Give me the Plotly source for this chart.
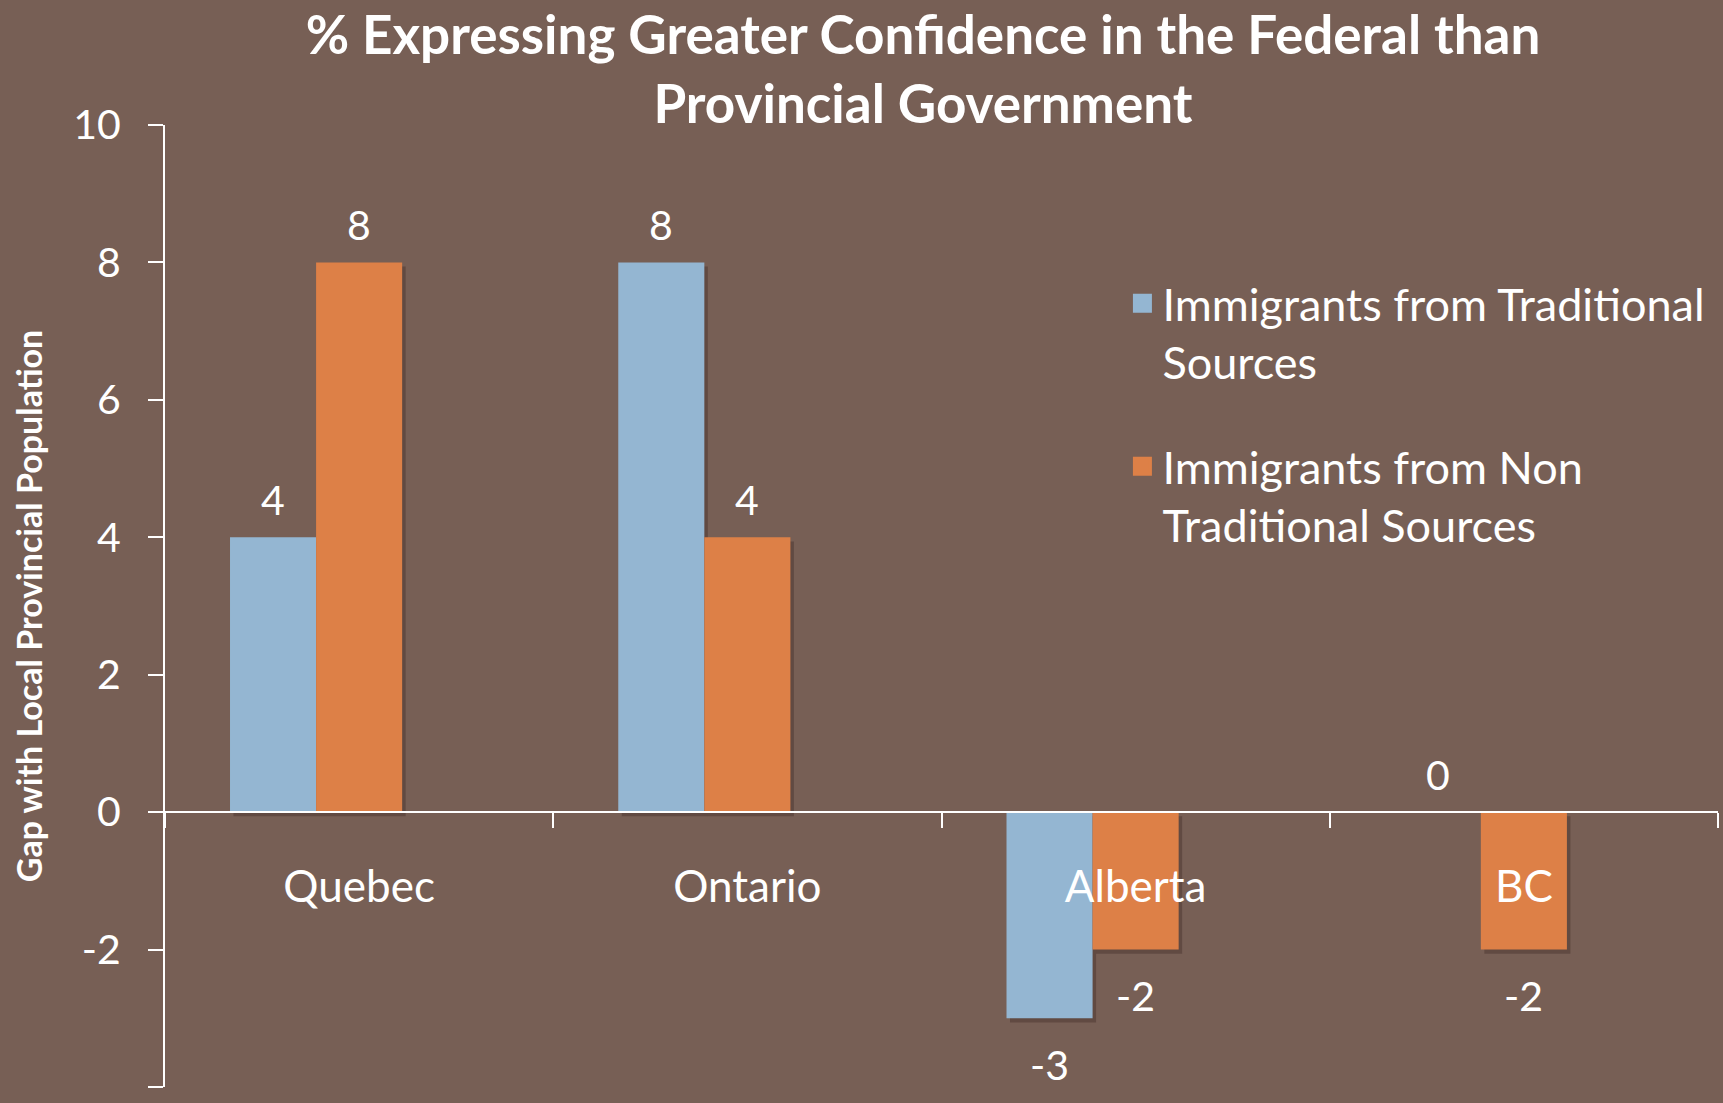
import plotly.graph_objects as go

categories = ["Quebec", "Ontario", "Alberta", "BC"]
traditional = [4, 8, -3, 0]
non_traditional = [8, 4, -2, -2]
series_names = ["Immigrants from Traditional<br>Sources", "Immigrants from Non<br>Traditional Sources"]
title_text = "% Expressing Greater Confidence in the Federal than<br>Provincial Government"
y_title = "Gap with Local Provincial Population"
y_range = [-4, 10]
y_ticks = [-4, -2, 0, 2, 4, 6, 8, 10]
y_tick_labels = ["-4", "-2", "0", "2", "4", "6", "8", "10"]

BG = "#775F55"
BLUE = "#94B6D2"
ORANGE = "#DD8047"
FONT = "Lato"

bar_w = 0.2217
offsets = [-1.5 * bar_w, -0.5 * bar_w]
colors = [BLUE, ORANGE]
series = [traditional, non_traditional]

fig = go.Figure()

# soft drop shadows (shifted slightly right and down)
for vals, off in zip(series, offsets):
    fig.add_trace(go.Bar(
        x=categories, y=vals, base=-0.06, width=bar_w, offset=off + 0.009,
        marker=dict(color="rgba(45,28,22,0.30)", line=dict(width=0)),
        showlegend=False, hoverinfo="skip",
    ))

for vals, off, col, name in zip(series, offsets, colors, series_names):
    fig.add_trace(go.Bar(
        x=categories, y=vals, width=bar_w, offset=off,
        marker=dict(color=col, line=dict(width=0)),
        name=name, showlegend=False, legendgroup=name,
    ))

# legend entries
for col, name in zip(colors, series_names):
    fig.add_trace(go.Scatter(
        x=[None], y=[None], mode="markers", name=name, legendgroup=name,
        marker=dict(symbol="square", size=22, color=col, line=dict(width=3, color=col)),
    ))

# value labels
annotations = []
for vals, off in zip(series, offsets):
    for i, v in enumerate(vals):
        annotations.append(dict(
            x=i + off + bar_w / 2, y=v, xref="x", yref="y",
            text=str(v), showarrow=False,
            font=dict(family=FONT, size=41, color="white"),
            yshift=38 if v >= 0 else -46,
        ))

pos0 = (0 - y_range[0]) / (y_range[1] - y_range[0])

fig.update_layout(
    width=1723, height=1103,
    paper_bgcolor=BG, plot_bgcolor=BG,
    margin=dict(l=165, r=5, t=125, b=16),
    barmode="overlay",
    font=dict(family=FONT, color="white"),
    title=dict(
        text=title_text, x=0.5357, xanchor="center", y=0.951, yanchor="top",
        font=dict(family=FONT, size=53, color="white", weight="bold"),
    ),
    xaxis=dict(
        type="category", categoryorder="array", categoryarray=categories,
        range=[-0.5, 3.5], anchor="free", position=pos0,
        showline=True, linecolor="white", linewidth=2,
        ticks="outside", tickson="boundaries", ticklen=15, tickwidth=2, tickcolor="white",
        tickfont=dict(family=FONT, size=44, color="white"),
        ticklabelstandoff=36,
        showgrid=False, zeroline=False,
    ),
    yaxis=dict(
        range=y_range, tickvals=y_ticks, ticktext=y_tick_labels,
        showline=True, linecolor="white", linewidth=2,
        ticks="outside", ticklen=15, tickwidth=2, tickcolor="white",
        tickfont=dict(family=FONT, size=41, color="white"),
        ticklabelstandoff=19,
        showgrid=False, zeroline=False,
        title=dict(text=y_title, standoff=20,
                   font=dict(family=FONT, size=34, color="white", weight="bold")),
    ),
    legend=dict(
        x=0.6165, xanchor="left", y=0.852, yanchor="top", valign="top",
        bgcolor="rgba(0,0,0,0)", font=dict(family=FONT, size=45, color="white"),
        tracegroupgap=43, itemsizing="trace",
    ),
    annotations=annotations,
    showlegend=True,
)

fig.write_html(
    "out.html",
    config={"displayModeBar": False},
    post_script="document.body.style.margin='0';document.body.style.background='" + BG + "';",
)
